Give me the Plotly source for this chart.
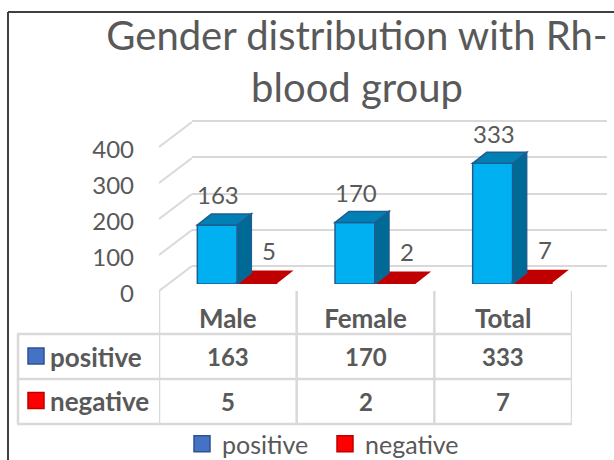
import plotly.graph_objects as go

# ---------- data ----------
categories = ["Male", "Female", "Total"]
positive = [163, 170, 333]
negative = [5, 2, 7]
y_ticks = [0, 100, 200, 300, 400]
series_names = ["positive", "negative"]
title_text = "Gender distribution with Rh-<br>blood group"

# ---------- layout geometry (pixels) ----------
W, H = 614, 460
FONT = "Lato"
TEXT = "#595959"
GRID = "#D9D9D9"
PX_PER_UNIT = 0.3625
PX_PER_CAT = 137.67
def fx(p): return p / W
def fy(p): return 1 - p / H

fig = go.Figure()

# invisible traces so the back-wall and front-axis subplots exist
fig.add_trace(go.Scatter(x=[None], y=[None], xaxis="x", yaxis="y", showlegend=False, hoverinfo="skip"))
fig.add_trace(go.Scatter(x=[None], y=[None], xaxis="x2", yaxis="y2", showlegend=False, hoverinfo="skip"))

# main bars (third subplot, drawn last)
bar_w = 40 / PX_PER_CAT
fig.add_trace(go.Bar(x=categories, y=positive, width=bar_w, offset=-bar_w, xaxis="x3", yaxis="y3",
                     marker=dict(color="#00B0F0", line=dict(color="#1F5C8F", width=1.5)),
                     showlegend=False, hoverinfo="skip"))
fig.add_trace(go.Bar(x=categories, y=negative, width=bar_w, offset=0, xaxis="x3", yaxis="y3",
                     marker=dict(color="#C00000", line=dict(color="#C00000", width=0)),
                     showlegend=False, hoverinfo="skip"))
# legend entries
for name, col, edge in zip(series_names, ["#4472C4", "#FF0000"], ["#2F528F", "#C00000"]):
    fig.add_trace(go.Scatter(x=[None], y=[None], mode="markers", name=name, xaxis="x3", yaxis="y3",
                             marker=dict(symbol="square", size=16, color=col, line=dict(color=edge, width=1.5))))

shapes = []
DX = 14 / PX_PER_CAT
DY = 11 / PX_PER_UNIT

def poly(points, fill, line=None, xref="x3", yref="y3"):
    d = "M " + " L ".join(f"{x},{y}" for x, y in points) + " Z"
    shapes.append(dict(type="path", path=d, xref=xref, yref=yref, fillcolor=fill, layer="above",
                       line=dict(color=line or fill, width=1.5)))

for i, (p, n) in enumerate(zip(positive, negative)):
    # red bar top
    poly([(i, n), (i + bar_w, n), (i + bar_w + DX, n + DY), (i + DX, n + DY)], "#C00000")
    # blue side and top
    poly([(i, 0), (i + DX, DY), (i + DX, p + DY), (i, p)], "#006A96", "#1F5C8F")
    poly([(i - bar_w, p), (i, p), (i + DX, p + DY), (i - bar_w + DX, p + DY)], "#0080B5", "#1F5C8F")

# depth lines joining the front tick level to the back gridline
grid_dx = 33 / PX_PER_CAT
label_gap = 3 / 0.36
grid_dy = 25 / 0.36
for t in y_ticks:
    shapes.append(dict(type="line", xref="x2", yref="y2", x0=-0.5, x1=-0.5 + grid_dx,
                       y0=t + label_gap, y1=t + label_gap + grid_dy,
                       line=dict(color=GRID, width=2), layer="below"))

# data table grid
for v in [-0.5, 0.5, 1.5, 2.5]:
    shapes.append(dict(type="line", xref="x2", yref="paper", x0=v, x1=v, y0=fy(291), y1=fy(424),
                       line=dict(color=GRID, width=2.5), layer="below"))
for yp in [334, 379, 424]:
    shapes.append(dict(type="line", xref="paper", yref="paper", x0=fx(17), x1=fx(572), y0=fy(yp), y1=fy(yp),
                       line=dict(color=GRID, width=2.5), layer="below"))
shapes.append(dict(type="line", xref="paper", yref="paper", x0=fx(18), x1=fx(18), y0=fy(334), y1=fy(424),
                   line=dict(color=GRID, width=2.5), layer="below"))

# table legend keys
for yc, col, edge in zip([356, 400.5], ["#4472C4", "#FF0000"], ["#2F528F", "#C00000"]):
    shapes.append(dict(type="rect", xref="paper", yref="paper", x0=fx(28), x1=fx(44), y0=fy(yc + 8), y1=fy(yc - 8),
                       fillcolor=col, line=dict(color=edge, width=1.5), layer="above"))

# outer frame
shapes.append(dict(type="line", xref="paper", yref="paper", x0=fx(8), x1=1, y0=fy(12), y1=fy(12),
                   line=dict(color="#404040", width=2)))
shapes.append(dict(type="line", xref="paper", yref="paper", x0=fx(8), x1=fx(8), y0=fy(12), y1=fy(H),
                   line=dict(color="#404040", width=2)))

annotations = []
LABEL_FONT = dict(family=FONT, size=24, color=TEXT)
# data labels
for i, (p, n) in enumerate(zip(positive, negative)):
    annotations.append(dict(x=i - bar_w / 2, y=p, xref="x3", yref="y3", text=str(p), showarrow=False,
                            font=LABEL_FONT, yshift=30, xshift=1, yanchor="middle"))
    annotations.append(dict(x=i + bar_w / 2, y=n, xref="x3", yref="y3", text=str(n), showarrow=False,
                            font=LABEL_FONT, yshift=32, xshift=12, yanchor="middle"))
# table body
BOLD_WORD = dict(family=FONT, size=26, color=TEXT, weight="bold")
BOLD_NUM = dict(family=FONT, size=24, color=TEXT, weight="bold")
for vals, name, yc in zip([positive, negative], series_names, [356.5, 401]):
    annotations.append(dict(x=fx(48), y=fy(yc), xref="paper", yref="paper", xanchor="left", yanchor="middle",
                            text=f"<b>{name}</b>", showarrow=False, font=BOLD_WORD))
    for i, v in enumerate(vals):
        annotations.append(dict(x=i, y=fy(yc), xref="x2", yref="paper", yanchor="middle",
                                text=f"<b>{v}</b>", showarrow=False, font=BOLD_NUM))

fig.update_layout(
    width=W, height=H, autosize=False,
    margin=dict(l=0, r=0, t=0, b=0, autoexpand=False),
    paper_bgcolor="white", plot_bgcolor="rgba(0,0,0,0)",
    font=dict(family=FONT, color=TEXT),
    title=dict(text=title_text, x=357 / W, xanchor="center", y=1 - 50 / H, yanchor="top",
               font=dict(family=FONT, size=40, color=TEXT)),
    barmode="overlay",
    shapes=shapes, annotations=annotations,
    legend=dict(orientation="h", x=fx(182), xanchor="left", y=fy(444), yanchor="middle",
                font=dict(family=FONT, size=25, color=TEXT), bgcolor="rgba(0,0,0,0)", itemwidth=30,
                entrywidth=98, entrywidthmode="pixels"),
    # back wall gridlines (range runs past the last tick so that its line is kept)
    xaxis=dict(domain=[fx(192), fx(607)], range=[0, 1], visible=False),
    yaxis=dict(domain=[fy(266), fy(266 - 500 * PX_PER_UNIT)], range=[0, 500], anchor="x", tickmode="array",
               tickvals=y_ticks, showticklabels=False,
               showgrid=True, gridcolor=GRID, gridwidth=2, zeroline=True, zerolinecolor=GRID, zerolinewidth=2,
               showline=False, ticks=""),
    # front axis carrying the tick labels and category labels
    xaxis2=dict(domain=[fx(159), fx(572)], range=[-0.5, 2.5], anchor="y2", tickmode="array", tickvals=[0, 1, 2],
                ticktext=[f"<b>{c}</b>" for c in categories], tickfont=BOLD_WORD, ticks="", showgrid=False,
                zeroline=False, showline=False, ticklabelstandoff=7),
    yaxis2=dict(domain=[fy(294), fy(114)], range=[0, 500], anchor="x2", tickmode="array", tickvals=y_ticks,
                tickfont=LABEL_FONT, ticks="", showgrid=False, zeroline=False, showline=False, ticklabelstandoff=24),
    # bars
    xaxis3=dict(domain=[fx(168.5), fx(581.5)], range=[-0.5, 2.5], anchor="y3", type="category",
                categoryorder="array", categoryarray=categories, visible=False),
    yaxis3=dict(domain=[fy(284), fy(100)], range=[0, 184 / PX_PER_UNIT], anchor="x3", visible=False),
)

fig.write_html("out.html", config={"displayModeBar": False},
               post_script="document.body.style.margin='0';document.body.style.overflow='hidden';")
